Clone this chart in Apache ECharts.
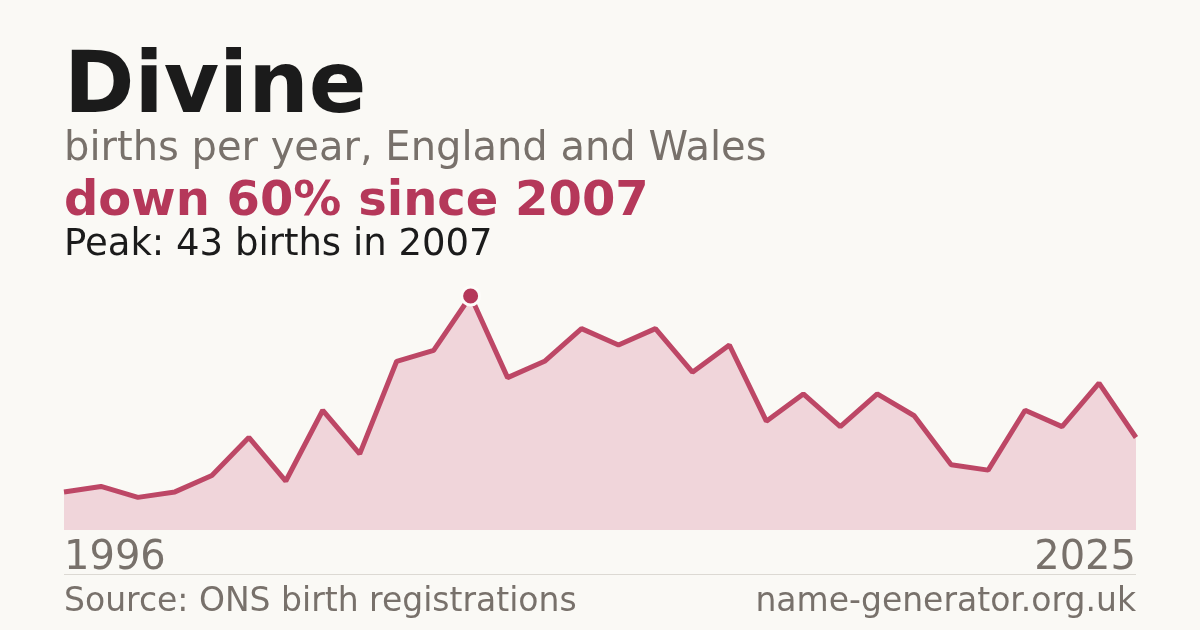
<!DOCTYPE html>
<html>
<head>
    <meta charset="utf-8">
    <title>Divine</title>
    <script src="https://cdn.jsdelivr.net/npm/echarts@6/dist/echarts.min.js"></script>
    <style type="text/css">
        html, body{
            margin: 0;
            padding: 0;
            background: #faf9f5;
        }
        #main{
            width: 1200px;
            height: 630px;
        }
    </style>
</head>
<body>
<div id="main"></div>
<script>
    var years = [];
    for (var y = 1996; y <= 2025; y++) years.push(String(y));
    var births = [7, 8, 6, 7, 10, 17, 9, 22, 14, 31, 33, 43, 28, 31, 37,
                  34, 37, 29, 34, 20, 25, 19, 25, 21, 12, 11, 22, 19, 27, 17];
    var peakIndex = births.indexOf(Math.max.apply(null, births));

    var accent = '#b5385a';
    var grey = '#78716b';
    var font = '"DejaVu Sans", sans-serif';

    var myChart = echarts.init(document.getElementById('main'));
    var option = {
        backgroundColor: '#faf9f5',
        animation: false,
        grid: {left: 64, right: 64, top: 296, bottom: 100},
        xAxis: {
            type: 'category',
            data: years,
            boundaryGap: false,
            axisLine: {show: false},
            axisTick: {show: false},
            splitLine: {show: false},
            axisLabel: {
                interval: function (i) { return i === 0 || i === years.length - 1; },
                alignMinLabel: 'left',
                alignMaxLabel: 'right',
                margin: 9,
                fontSize: 40,
                fontFamily: font,
                color: grey
            }
        },
        yAxis: {
            type: 'value',
            min: 0,
            max: 43,
            show: false
        },
        series: [{
            type: 'line',
            data: births,
            symbol: 'none',
            lineStyle: {color: '#bd4766', width: 5},
            areaStyle: {color: '#f0d5da', opacity: 1},
            z: 2
        }, {
            type: 'scatter',
            data: [[years[peakIndex], births[peakIndex]]],
            symbol: 'circle',
            symbolSize: 18,
            itemStyle: {color: accent, borderColor: '#fdfcf9', borderWidth: 3, opacity: 1},
            z: 5
        }],
        graphic: [
            {type: 'text', left: 64, top: 47, style: {text: 'Divine', font: 'bold 85px ' + font, fill: '#1b1b1b'}},
            {type: 'text', left: 64, top: 130, style: {text: 'births per year, England and Wales', font: '40px ' + font, fill: grey}},
            {type: 'text', left: 64, top: 179, style: {text: 'down 60% since 2007', font: 'bold 48px ' + font, fill: accent}},
            {type: 'text', left: 64, top: 227, style: {text: 'Peak: 43 births in 2007', font: '37px ' + font, fill: '#1b1b1b'}},
            {type: 'rect', shape: {x: 64, y: 574, width: 1072, height: 1}, style: {fill: '#dcd9d3'}},
            {type: 'text', left: 64, top: 586, style: {text: 'Source: ONS birth registrations', font: '33px ' + font, fill: grey}},
            {type: 'text', right: 64, top: 586, style: {text: 'name-generator.org.uk', font: '33px ' + font, fill: grey}}
        ]
    };
    myChart.setOption(option);
</script>
</body>
</html>
